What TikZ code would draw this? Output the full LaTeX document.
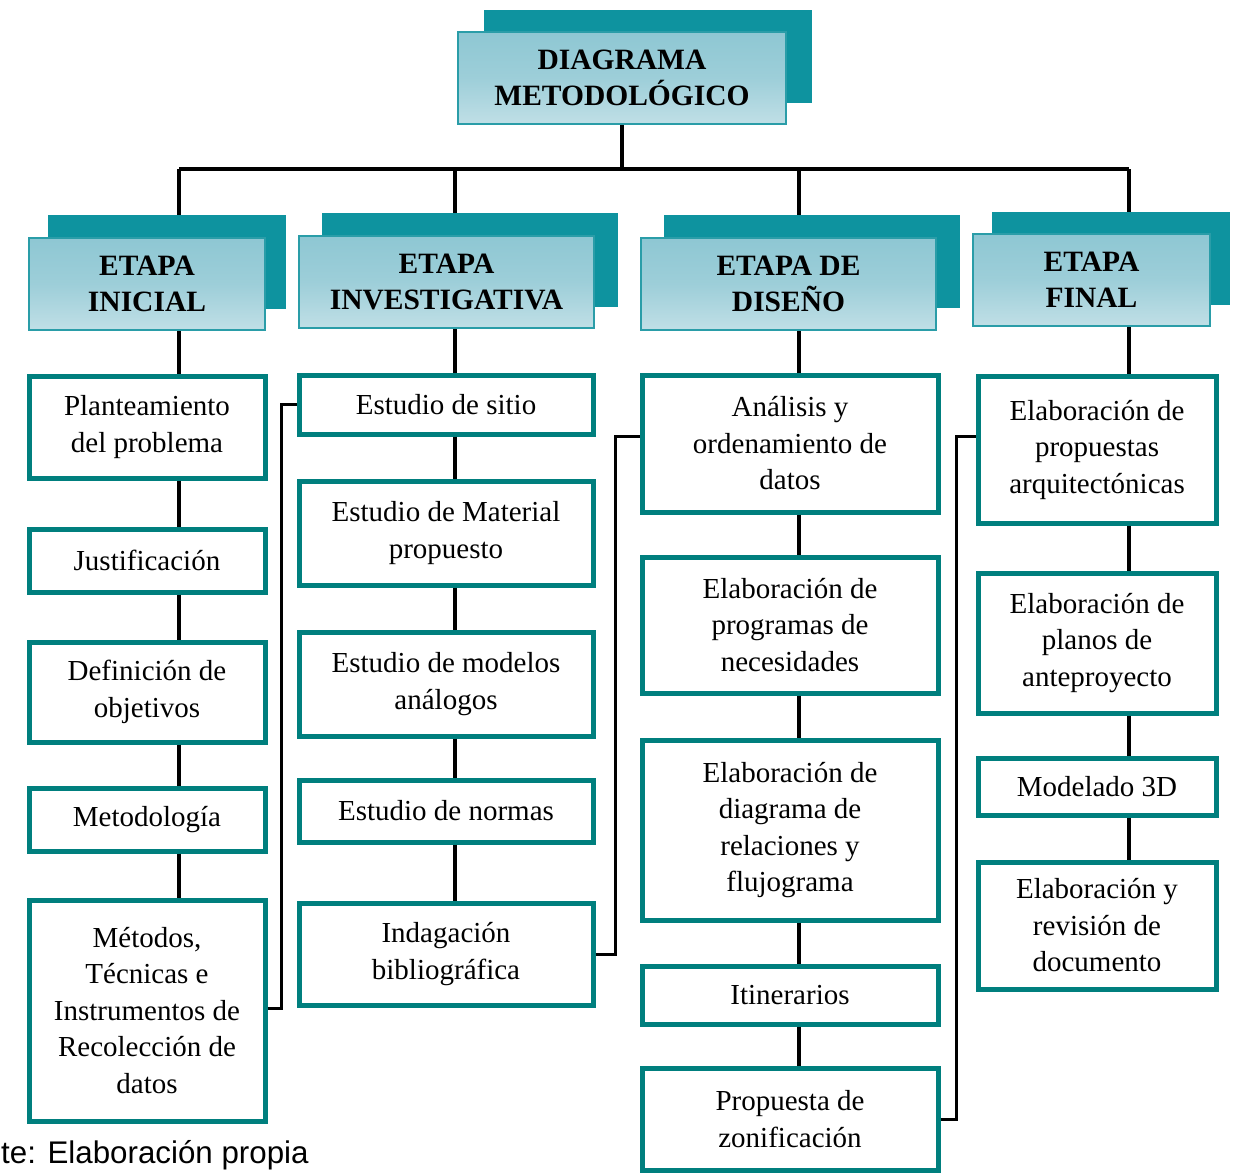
\documentclass[tikz,border=0pt]{standalone}
\usepackage{fontspec}
\setmainfont{Liberation Serif}
\newfontfamily\footfont{Liberation Sans}
\definecolor{shadowteal}{HTML}{0E939F}
\definecolor{headborder}{HTML}{2A9DA8}
\definecolor{headtop}{HTML}{8EC7D3}
\definecolor{headbot}{HTML}{C0DFE6}
\definecolor{boxteal}{HTML}{007F7E}
\begin{document}
\begin{tikzpicture}[x=1pt,y=-1pt,
  shadowbox/.style={rectangle, fill=shadowteal, draw=none, inner sep=0pt},
  headbox/.style={rectangle, draw=headborder, line width=2.5pt, top color=headtop, bottom color=headbot, middle color=headtop!70!headbot, align=center, inner sep=0pt, font=\fontsize{29.5}{36.5}\selectfont\bfseries},
  stepbox/.style={rectangle, draw=boxteal, line width=5pt, fill=white, align=center, inner sep=0pt, font=\fontsize{29}{36.5}\selectfont},
  link/.style={draw=black, line width=3.5pt},
]
\useasboundingbox (0,0) rectangle (1246,1172);

% main header
\node[shadowbox, minimum width=328pt, minimum height=93pt] (ms) at (648,56.5) {};
\node[headbox, minimum width=328pt, minimum height=92pt] (m) at (622,78) {DIAGRAMA\\METODOLÓGICO};

% etapa headers
\node[shadowbox, minimum width=238pt, minimum height=94pt] (h1s) at (167,262) {};
\node[headbox, minimum width=236pt, minimum height=92pt] (h1) at (147,284) {ETAPA\\INICIAL};
\node[shadowbox, minimum width=296pt, minimum height=94pt] (h2s) at (470,260) {};
\node[headbox, minimum width=295pt, minimum height=92pt] (h2) at (446.5,282) {ETAPA\\INVESTIGATIVA};
\node[shadowbox, minimum width=296pt, minimum height=93pt] (h3s) at (812,261.5) {};
\node[headbox, minimum width=295pt, minimum height=92pt] (h3) at (788.5,284) {ETAPA DE\\DISEÑO};
\node[shadowbox, minimum width=238pt, minimum height=93pt] (h4s) at (1111,258.5) {};
\node[headbox, minimum width=237pt, minimum height=92pt] (h4) at (1091.5,280) {ETAPA\\FINAL};

% column 1
\node[stepbox, minimum width=236pt, minimum height=102pt] (p1) at (147,427) {Planteamiento\\del problema};
\node[stepbox, minimum width=236pt, minimum height=63pt] (p2) at (147,560.5) {Justificación};
\node[stepbox, minimum width=236pt, minimum height=100pt] (p3) at (147,692) {Definición de\\objetivos};
\node[stepbox, minimum width=236pt, minimum height=63pt] (p4) at (147,819.5) {Metodología};
\node[stepbox, minimum width=236pt, minimum height=221pt] (p5) at (147,1010.5) {Métodos,\\Técnicas e\\Instrumentos de\\Recolección de\\datos};

% column 2
\node[stepbox, minimum width=294pt, minimum height=59pt] (q1) at (446,404.5) {Estudio de sitio};
\node[stepbox, minimum width=294pt, minimum height=104pt] (q2) at (446,533) {Estudio de Material\\propuesto};
\node[stepbox, minimum width=294pt, minimum height=104pt] (q3) at (446,684) {Estudio de modelos\\análogos};
\node[stepbox, minimum width=294pt, minimum height=62pt] (q4) at (446,811) {Estudio de normas};
\node[stepbox, minimum width=294pt, minimum height=102pt] (q5) at (446,954) {Indagación\\bibliográfica};

% column 3
\node[stepbox, minimum width=296pt, minimum height=137pt] (r1) at (790,443.5) {Análisis y\\ordenamiento de\\datos};
\node[stepbox, minimum width=296pt, minimum height=136pt] (r2) at (790,625) {Elaboración de\\programas de\\necesidades};
\node[stepbox, minimum width=296pt, minimum height=180pt] (r3) at (790,830) {Elaboración de\\diagrama de\\relaciones y\\flujograma};
\node[stepbox, minimum width=296pt, minimum height=58pt] (r4) at (790,995) {Itinerarios};
\node[stepbox, minimum width=296pt, minimum height=102pt] (r5) at (790,1119) {Propuesta de\\zonificación};

% column 4
\node[stepbox, minimum width=238pt, minimum height=147pt] (s1) at (1097,449.5) {Elaboración de\\propuestas\\arquitectónicas};
\node[stepbox, minimum width=238pt, minimum height=140pt] (s2) at (1097,643) {Elaboración de\\planos de\\anteproyecto};
\node[stepbox, minimum width=238pt, minimum height=57pt] (s3) at (1097,786.5) {Modelado 3D};
\node[stepbox, minimum width=238pt, minimum height=127pt] (s4) at (1097,925.5) {Elaboración y\\revisión de\\documento};

% footer
\node[anchor=base west, inner sep=0pt, font=\footfont\fontsize{31.3}{36}\selectfont] (src) at (1,1163) {te: Elaboración propia};

% connector coordinates
\coordinate (bus) at (0,169);
\coordinate (c1) at (179,0);
\coordinate (c2) at (455,0);
\coordinate (c3) at (799,0);
\coordinate (c4) at (1129,0);
\coordinate (e1a) at (281,1008);
\coordinate (e2a) at (615,954);
\coordinate (e2b) at (615,436);
\coordinate (e3a) at (956,1119);
\coordinate (e3b) at (956,436);

% bus
\draw[link] (m.south) -- (m.south |- bus);
\draw[link] (c1 |- bus) -- (c4 |- bus);
\draw[link] (c1 |- bus) -- (c1 |- h1s.north);
\draw[link] (c2 |- bus) -- (c2 |- h2s.north);
\draw[link] (c3 |- bus) -- (c3 |- h3s.north);
\draw[link] (c4 |- bus) -- (c4 |- h4s.north);
% column 1
\draw[link] (c1 |- h1.south) -- (c1 |- p1.north);
\draw[link] (c1 |- p1.south) -- (c1 |- p2.north);
\draw[link] (c1 |- p2.south) -- (c1 |- p3.north);
\draw[link] (c1 |- p3.south) -- (c1 |- p4.north);
\draw[link] (c1 |- p4.south) -- (c1 |- p5.north);
% column 2
\draw[link] (c2 |- h2.south) -- (c2 |- q1.north);
\draw[link] (c2 |- q1.south) -- (c2 |- q2.north);
\draw[link] (c2 |- q2.south) -- (c2 |- q3.north);
\draw[link] (c2 |- q3.south) -- (c2 |- q4.north);
\draw[link] (c2 |- q4.south) -- (c2 |- q5.north);
% column 3
\draw[link] (c3 |- h3.south) -- (c3 |- r1.north);
\draw[link] (c3 |- r1.south) -- (c3 |- r2.north);
\draw[link] (c3 |- r2.south) -- (c3 |- r3.north);
\draw[link] (c3 |- r3.south) -- (c3 |- r4.north);
\draw[link] (c3 |- r4.south) -- (c3 |- r5.north);
% column 4
\draw[link] (c4 |- h4.south) -- (c4 |- s1.north);
\draw[link] (c4 |- s1.south) -- (c4 |- s2.north);
\draw[link] (c4 |- s2.south) -- (c4 |- s3.north);
\draw[link] (c4 |- s3.south) -- (c4 |- s4.north);
% elbows
\draw[link, line width=3pt] (p5.east |- e1a) -- (e1a) |- (q1.west);
\draw[link, line width=3pt] (q5.east |- e2a) -- (e2a) -- (e2b) -- (r1.west |- e2b);
\draw[link, line width=3pt] (r5.east |- e3a) -- (e3a) -- (e3b) -- (s1.west |- e3b);
\end{tikzpicture}
\end{document}
